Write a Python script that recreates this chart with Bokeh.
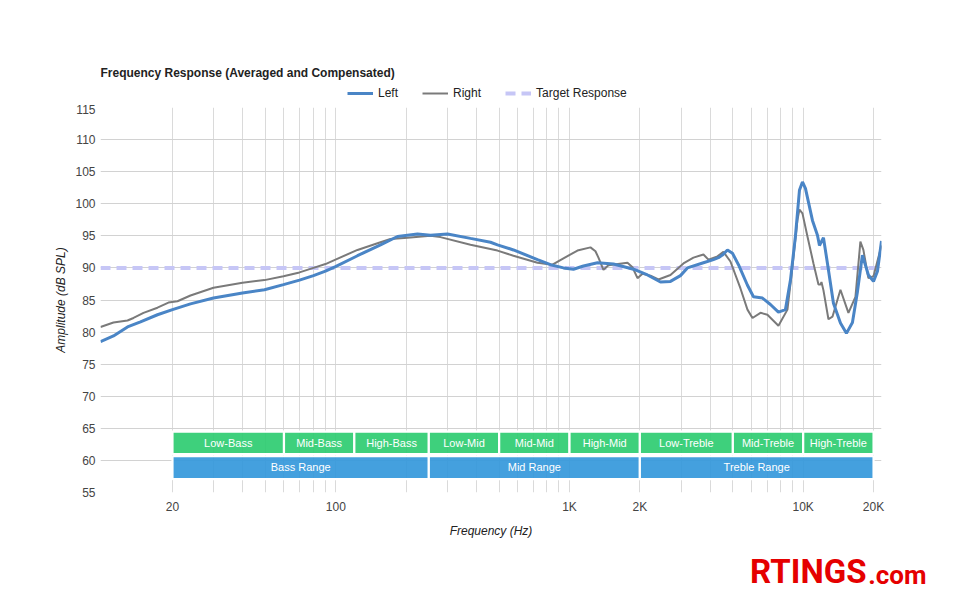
from bokeh.plotting import figure
from bokeh.models import Range1d, FixedTicker, Legend, LegendItem
from bokeh.layouts import column
from bokeh.embed import file_html
from bokeh.resources import INLINE
from bokeh.core.properties import value

# ---------------- data ----------------
freq_left = [9.84, 11.18, 12.84, 14.59, 17.25, 20.0, 23.88, 29.95, 39.86, 49.52,
             59.70, 69.90, 80.24, 90.30, 99.66, 123.8, 155.3, 183.6, 223.6, 254.1,
             300.5, 376.9, 459.0, 491.7, 575.6, 729.3, 828.8, 942.2, 1039.7, 1147.4,
             1317.0, 1542.0, 1878.1, 2155.9, 2450.7, 2703.7, 2983.0, 3196.1, 3741.9, 4129.3,
             4337.9, 4512.3, 4740.2, 4979.5, 5284.4, 5774.4, 6126.1, 6694.1, 7241.0, 7835.0,
             8395.4, 8819.7, 9265.4, 9637.0, 9926.6, 10224, 10955, 11509, 11738, 12210,
             12701, 13473, 14433, 15311, 16245, 17066, 17917, 19009, 19990, 20794, 21630]
db_left = [78.5, 79.4, 80.8, 81.6, 82.7, 83.5, 84.4, 85.3, 86.1, 86.6,
           87.4, 88.1, 88.8, 89.5, 90.2, 91.9, 93.6, 94.9, 95.3, 95.1,
           95.3, 94.6, 94.0, 93.6, 92.8, 91.3, 90.5, 90.0, 89.8, 90.3,
           90.8, 90.6, 89.8, 88.9, 87.8, 87.9, 88.8, 90.0, 90.8, 91.3,
           91.6, 92.0, 92.8, 92.3, 90.5, 87.3, 85.5, 85.3, 84.3, 83.1,
           83.5, 88.1, 95.0, 102.1, 103.4, 102.4, 97.4, 95.1, 93.5, 94.7,
           90.7, 84.5, 81.4, 79.8, 81.5, 86.3, 92.0, 88.9, 87.9, 89.5, 94.2]

freq_right = [9.84, 11.18, 12.84, 13.62, 15.03, 17.25, 19.22, 21.01, 23.88, 29.95,
              39.86, 49.52, 59.70, 69.90, 80.24, 90.30, 99.66, 123.8, 155.3, 171.3,
              202.6, 254.1, 280.4, 376.9, 491.7, 575.6, 729.3, 845.3, 942.2, 1081.5,
              1229.2, 1291.3, 1330.0, 1397.2, 1467.8, 1770.4, 1859.7, 1953.6, 2052.3, 2220.5,
              2402.9, 2703.7, 3072.6, 3390.8, 3741.9, 3930.8, 4295.4, 4557.0, 4882.3, 5389.6,
              5774.4, 6066.0, 6563.5, 7030.2, 7835.0, 8562.0, 8995.0, 9449.4, 9637.0, 9926.6,
              10428, 11064, 11623, 11854, 11972, 12210, 12826, 13341, 14433, 15616,
              16733, 17568, 18095, 19009, 19990, 21630]
db_right = [80.8, 81.5, 81.8, 82.2, 83.0, 83.8, 84.6, 84.8, 85.7, 86.9,
            87.7, 88.1, 88.7, 89.3, 90.0, 90.6, 91.3, 92.8, 94.0, 94.5,
            94.7, 95.0, 94.8, 93.6, 92.7, 91.9, 90.8, 90.5, 91.5, 92.7,
            93.2, 92.6, 91.6, 89.7, 90.4, 90.8, 90.1, 88.4, 89.1, 88.8,
            88.2, 88.9, 90.7, 91.6, 92.1, 91.3, 91.8, 92.5, 91.0, 86.8,
            83.5, 82.2, 83.0, 82.7, 81.0, 83.5, 90.2, 97.5, 99.1, 98.5,
            94.9, 90.7, 87.4, 87.4, 87.8, 86.5, 82.0, 82.4, 86.6, 83.0,
            85.5, 94.1, 92.8, 88.4, 88.7, 93.5]

target_db = 90

x_ticks = [20, 100, 1000, 2000, 10000, 20000]
x_tick_labels = ["20", "100", "1K", "2K", "10K", "20K"]
x_grid = [20, 30, 40, 50, 60, 70, 80, 90,
          100, 200, 300, 400, 500, 600, 700, 800, 900,
          1000, 2000, 3000, 4000, 5000, 6000, 7000, 8000, 9000,
          10000, 20000]
y_ticks = [55, 60, 65, 70, 75, 80, 85, 90, 95, 100, 105, 110, 115]

band_names = ["Low-Bass", "Mid-Bass", "High-Bass", "Low-Mid", "Mid-Mid",
              "High-Mid", "Low-Treble", "Mid-Treble", "High-Treble"]
band_lo = [20, 60, 120, 250, 500, 1000, 2000, 5000, 10000]
band_hi = [60, 120, 250, 500, 1000, 2000, 5000, 10000, 20000]

range_names = ["Bass Range", "Mid Range", "Treble Range"]
range_lo = [20, 250, 2000]
range_hi = [250, 2000, 20000]

title_text = "Frequency Response (Averaged and Compensated)"
series_names = ["Left", "Right", "Target Response"]

FONT = "Liberation Sans"
LOGO_FONT = "Roboto"
W = 954
BLUE, GRAY, LAVENDER = "#4a85c6", "#7a7a7a", "#c6c6f6"
x_start, x_end = freq_left[0], freq_left[-1]


def blank(height):
    f = figure(width=W, height=height, x_range=Range1d(0, W), y_range=Range1d(height, 0),
               output_backend="svg", toolbar_location=None, min_border=0,
               x_axis_location=None, y_axis_location=None, frame_align=False)
    f.outline_line_color = None
    f.xgrid.visible = False
    f.ygrid.visible = False
    return f


# ---------------- header: title + legend ----------------
HEAD_H = 104
head = blank(HEAD_H)
head.text(x=[100], y=[72], text=[title_text], text_font=value(FONT), text_font_size="12px",
          text_font_style="bold", text_color="#222222", text_baseline="middle")
# legend entries bound to the series (not drawn in this header panel)
h_left = head.line(freq_left, db_left, line_color=BLUE, line_width=3, visible=False)
h_right = head.line(freq_right, db_right, line_color=GRAY, line_width=2, visible=False)
h_target = head.line([x_start, x_end], [target_db, target_db], line_color=LAVENDER,
                     line_width=4, line_dash="10 6", visible=False)
legend = Legend(items=[LegendItem(label=n, renderers=[r])
                       for n, r in zip(series_names, [h_left, h_right, h_target])],
                orientation="horizontal", location=(347, HEAD_H - 100),
                glyph_width=26, glyph_height=14, label_standoff=5, spacing=24,
                padding=0, margin=0, border_line_color=None, background_fill_alpha=0,
                label_text_font=FONT, label_text_font_size="12px", label_text_color="#222222",
                label_height=14)
head.add_layout(legend, "center")

# ---------------- main plot ----------------
p = figure(width=W, height=436, x_axis_type="log",
           x_range=Range1d(x_start, x_end), y_range=Range1d(y_ticks[0], y_ticks[-1]),
           output_backend="svg", toolbar_location=None, frame_align=False,
           min_border_left=100, min_border_right=W - 881, min_border_top=3, min_border_bottom=46)
p.outline_line_color = None
p.background_fill_color = "white"
p.border_fill_color = "white"

p.xgrid.ticker = FixedTicker(ticks=x_grid)
p.ygrid.ticker = FixedTicker(ticks=y_ticks)
p.xgrid.grid_line_color = "#dadada"
p.ygrid.grid_line_color = "#d2d2d2"

p.xaxis.ticker = FixedTicker(ticks=x_ticks)
p.xaxis.major_label_overrides = {t: l for t, l in zip(x_ticks, x_tick_labels)}
p.yaxis.ticker = FixedTicker(ticks=y_ticks)
for ax in (p.xaxis[0], p.yaxis[0]):
    ax.axis_line_color = None
    ax.major_tick_line_color = None
    ax.minor_tick_line_color = None
    ax.major_tick_out = 0
    ax.major_tick_in = 0
    ax.major_label_text_font = FONT
    ax.major_label_text_font_size = "12px"
    ax.major_label_text_color = "#444444"
    ax.axis_label_text_font = FONT
    ax.axis_label_text_font_size = "12px"
    ax.axis_label_text_font_style = "italic"
    ax.axis_label_text_color = "#222222"
p.xaxis.axis_label = "Frequency (Hz)"
p.yaxis.axis_label = "Amplitude (dB SPL)"
p.xaxis.major_label_standoff = 7
p.xaxis.axis_label_standoff = 7
p.yaxis.major_label_standoff = 5
p.yaxis.axis_label_standoff = 4

# band boxes
p.quad(left=band_lo, right=band_hi, bottom=61.0, top=64.5,
       fill_color="#2ecc71", fill_alpha=0.92, line_color="white", line_width=2.2)
p.quad(left=range_lo, right=range_hi, bottom=57.1, top=60.65,
       fill_color="#3498db", fill_alpha=0.92, line_color="white", line_width=2.2)
band_mid = [(a * b) ** 0.5 for a, b in zip(band_lo, band_hi)]
range_mid = [(a * b) ** 0.5 for a, b in zip(range_lo, range_hi)]
p.text(x=band_mid, y=62.75, text=band_names, text_font=value(FONT),
       text_font_size="11px", text_color="white", text_align="center", text_baseline="middle")
p.text(x=range_mid, y=58.9, text=range_names, text_font=value(FONT),
       text_font_size="11px", text_color="white", text_align="center", text_baseline="middle")

# curves
p.line([x_start, x_end], [target_db, target_db], line_color=LAVENDER,
       line_width=4, line_dash="10 6")
p.line(freq_right, db_right, line_color=GRAY, line_width=2)
p.line(freq_left, db_left, line_color=BLUE, line_width=3)

# ---------------- logo ----------------
LOGO_H = 52
logo = blank(LOGO_H)
logo.text(x=[866], y=[31], text=["RTINGS"], text_font=value(LOGO_FONT),
          text_font_style="bold", text_font_size="33px", text_color="#e50000",
          text_align="right", text_baseline="middle")
logo.text(x=[926], y=[34], text=[".com"], text_font=value(LOGO_FONT),
          text_font_style="bold", text_font_size="26px", text_color="#e50000",
          text_align="right", text_baseline="middle")

layout = column(head, p, logo, spacing=0)
open("out.html", "w").write(file_html(layout, INLINE))
